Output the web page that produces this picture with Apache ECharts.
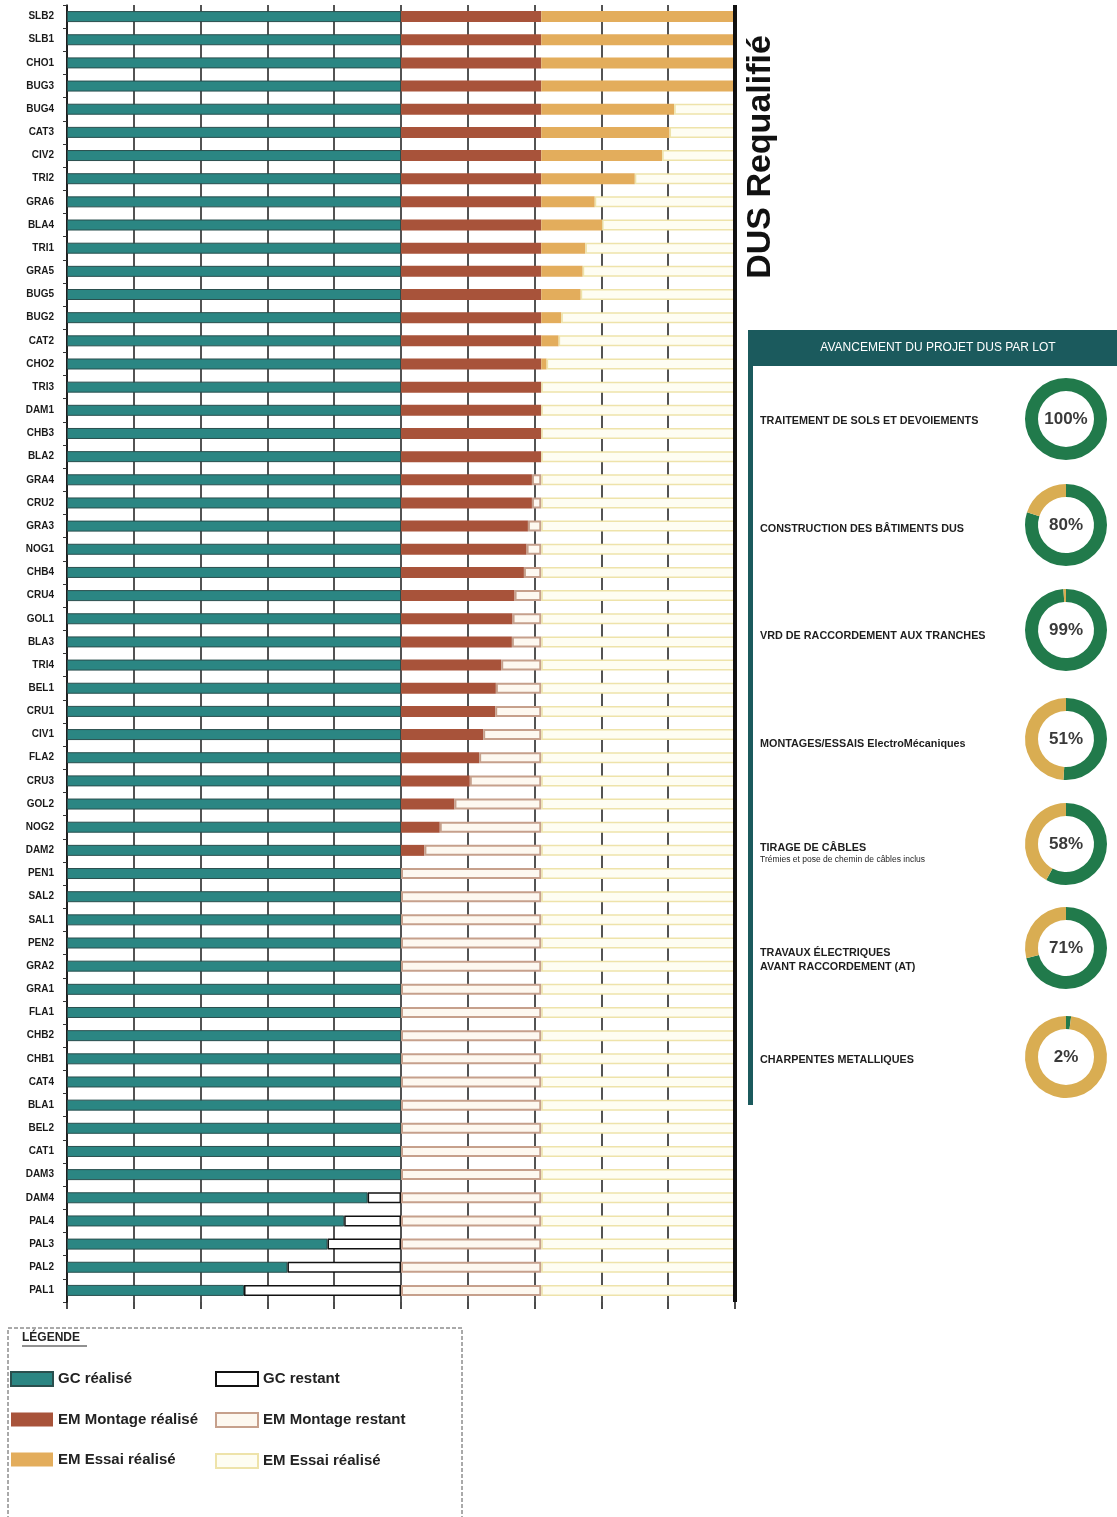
<!DOCTYPE html>
<html>
<head>
<meta charset="utf-8">
<script src="https://cdn.jsdelivr.net/npm/echarts@6/dist/echarts.min.js"></script>
<style>
html,body{margin:0;padding:0;background:#fff;}
#chart{width:1117px;height:1517px;}
</style>
</head>
<body>
<div id="chart"></div>
<script>
// sites, top to bottom
const categories = ['SLB2','SLB1','CHO1','BUG3','BUG4','CAT3','CIV2','TRI2','GRA6','BLA4',
  'TRI1','GRA5','BUG5','BUG2','CAT2','CHO2','TRI3','DAM1','CHB3','BLA2',
  'GRA4','CRU2','GRA3','NOG1','CHB4','CRU4','GOL1','BLA3','TRI4','BEL1',
  'CRU1','CIV1','FLA2','CRU3','GOL2','NOG2','DAM2','PEN1','SAL2','SAL1',
  'PEN2','GRA2','GRA1','FLA1','CHB2','CHB1','CAT4','BLA1','BEL2','CAT1',
  'DAM3','DAM4','PAL4','PAL3','PAL2','PAL1'];

const gcDone = [50,50,50,50,50,50,50,50,50,50,
  50,50,50,50,50,50,50,50,50,50,
  50,50,50,50,50,50,50,50,50,50,
  50,50,50,50,50,50,50,50,50,50,
  50,50,50,50,50,50,50,50,50,50,
  50,45,41.5,39,33,26.5];
const gcLeft = [0,0,0,0,0,0,0,0,0,0,
  0,0,0,0,0,0,0,0,0,0,
  0,0,0,0,0,0,0,0,0,0,
  0,0,0,0,0,0,0,0,0,0,
  0,0,0,0,0,0,0,0,0,0,
  0,5,8.5,11,17,23.5];
const mtDone = [21,21,21,21,21,21,21,21,21,21,
  21,21,21,21,21,21,21,21,21,21,
  19.6,19.6,19.0,18.8,18.4,17.0,16.7,16.6,15.0,14.2,
  14.1,12.3,11.7,10.3,8.0,5.8,3.5,0,0,0,
  0,0,0,0,0,0,0,0,0,0,
  0,0,0,0,0,0];
const mtLeft = [0,0,0,0,0,0,0,0,0,0,
  0,0,0,0,0,0,0,0,0,0,
  1.4,1.4,2.0,2.2,2.6,4.0,4.3,4.4,6.0,6.8,
  6.9,8.7,9.3,10.7,13.0,15.2,17.5,21,21,21,
  21,21,21,21,21,21,21,21,21,21,
  21,21,21,21,21,21];
const esDone = [29,29,29,29,19.9,19.2,18.1,14.0,8.0,9.1,
  6.6,6.2,5.9,3.0,2.6,0.8,0,0,0,0,
  0,0,0,0,0,0,0,0,0,0,
  0,0,0,0,0,0,0,0,0,0,
  0,0,0,0,0,0,0,0,0,0,
  0,0,0,0,0,0];
const esLeft = [0,0,0,0,9.1,9.8,10.9,15.0,21.0,19.9,
  22.4,22.8,23.1,26.0,26.4,28.2,29,29,29,29,
  29,29,29,29,29,29,29,29,29,29,
  29,29,29,29,29,29,29,29,29,29,
  29,29,29,29,29,29,29,29,29,29,
  29,29,29,29,29,29];

// lots on the right panel
const lotLines = [
  ['TRAITEMENT DE SOLS ET DEVOIEMENTS'],
  ['CONSTRUCTION DES BÂTIMENTS DUS'],
  ['VRD DE RACCORDEMENT AUX TRANCHES'],
  ['MONTAGES/ESSAIS ElectroMécaniques'],
  ['TIRAGE DE CÂBLES', 'Trémies et pose de chemin de câbles inclus'],
  ['TRAVAUX ÉLECTRIQUES', 'AVANT RACCORDEMENT (AT)'],
  ['CHARPENTES METALLIQUES']
];
const lotPct = [100, 80, 99, 51, 58, 71, 2];
const lotRest = [0, 20, 1, 49, 42, 29, 98];

const narrow = "'Liberation Sans Narrow','Liberation Sans',sans-serif";
const donutY = [419, 525, 630, 739, 844, 948, 1057];

let chart = echarts.init(document.getElementById('chart'));

function bar(name, data, color, border, bw){
  return {
    name: name, type: 'bar', stack: 'total', barWidth: 11, z: 2,
    data: data.map(v => v === 0 ? '-' : v),
    itemStyle: {color: color, borderColor: border, borderWidth: bw},
    emphasis: {disabled: true}, silent: true
  };
}

let series = [
  bar('GC réalisé', gcDone, '#2b8683', '#2a4f4e', 1),
  bar('GC restant', gcLeft, '#ffffff', '#111111', 1.5),
  bar('EM Montage réalisé', mtDone, '#a8533a', '#a8533a', 0),
  bar('EM Montage restant', mtLeft, '#fdf8f0', '#c6a08c', 2),
  bar('EM Essai réalisé', esDone, '#e3ad5c', '#e3ad5c', 0),
  bar('EM Essai restant', esLeft, '#fefdf2', '#eee3aa', 1.5),
  {
    type: 'line', data: [], z: 1, silent: true,
    markLine: {silent: true, symbol: 'none', label: {show: false},
      lineStyle: {color: '#111', width: 4, type: 'solid'},
      data: [{xAxis: 100}]}
  }
];

lotPct.forEach((p, i) => {
  series.push({
    type: 'pie', center: [1066, donutY[i]], radius: [28, 41],
    startAngle: 90, clockwise: true, silent: true, avoidLabelOverlap: false,
    labelLine: {show: false},
    label: {show: false},
    data: [
      {value: p, itemStyle: {color: '#217a4b'},
       label: {show: true, position: 'center', formatter: '{c}%',
         fontSize: 17, fontWeight: 'bold', color: '#3a3a3a', fontFamily: 'Liberation Sans, Arial'}},
      {value: lotRest[i], itemStyle: {color: '#d9ad52'}}
    ]
  });
});

let graphic = [
  {type: 'text', x: 761, y: 157, rotation: Math.PI / 2,
   style: {text: 'DUS Requalifié', font: "bold 34px 'Liberation Sans', Arial", fill: '#111',
     textAlign: 'center', textVerticalAlign: 'middle'}},
  {type: 'rect', shape: {x: 748, y: 330, width: 369, height: 36}, style: {fill: '#1b5a5d'}},
  {type: 'rect', shape: {x: 748, y: 330, width: 5, height: 775}, style: {fill: '#1b5a5d'}},
  {type: 'text', x: 938, y: 348,
   style: {text: 'AVANCEMENT DU PROJET DUS PAR LOT', font: "12px 'Liberation Sans', Arial", fill: '#fff',
     textAlign: 'center', textVerticalAlign: 'middle'}},
  {type: 'rect', shape: {x: 8, y: 1328, width: 454, height: 200},
   style: {fill: 'none', stroke: '#555', lineWidth: 1, lineDash: [4, 2]}},
  {type: 'text', x: 22, y: 1338,
   style: {text: 'LÉGENDE', font: "bold 12px " + narrow, fill: '#222', textVerticalAlign: 'middle'}},
  {type: 'line', shape: {x1: 22, y1: 1346, x2: 87, y2: 1346}, style: {stroke: '#222', lineWidth: 1}}
];

const lotLabelY = [421, 529, 636, 744, 848, 953, 1060];
lotLines.forEach((lines, i) => {
  graphic.push({type: 'text', x: 760, y: lotLabelY[i],
    style: {text: lines[0], font: "bold 10.8px " + narrow, fill: '#1e1e1e', textVerticalAlign: 'middle'}});
  if (lines[1]) {
    let bold = i === 5;
    graphic.push({type: 'text', x: 760, y: lotLabelY[i] + (bold ? 14 : 12),
      style: {text: lines[1], font: (bold ? 'bold 10.8px ' : '8.5px ') + narrow, fill: '#1e1e1e', textVerticalAlign: 'middle'}});
  }
});

const legendText = {fontSize: 15, fontWeight: 'bold', color: '#222', fontFamily: narrow, lineHeight: 14};

chart.setOption({
  animation: false,
  backgroundColor: '#fff',
  grid: {left: 67, top: 5, width: 668, height: 1297, containLabel: false},
  legend: [
    {left: 10, top: 1371, padding: 0, orient: 'vertical', icon: 'rect', itemWidth: 42, itemHeight: 14, itemGap: 25,
     selectedMode: false, textStyle: legendText,
     data: ['GC réalisé', 'EM Montage réalisé', 'EM Essai réalisé']},
    {left: 215, top: 1371, padding: 0, orient: 'vertical', icon: 'rect', itemWidth: 42, itemHeight: 14, itemGap: 25,
     selectedMode: false, textStyle: legendText,
     formatter: function(name){ return name === 'EM Essai restant' ? 'EM Essai réalisé' : name; },
     data: ['GC restant', 'EM Montage restant', 'EM Essai restant']}
  ],
  xAxis: {
    type: 'value', min: 0, max: 100, interval: 10,
    axisLabel: {show: false},
    axisLine: {show: false},
    axisTick: {show: true, length: 7, lineStyle: {color: '#111', width: 1.5}},
    splitLine: {show: true, lineStyle: {color: '#1a1a1a', width: 1.5}}
  },
  yAxis: {
    type: 'category', inverse: true, data: categories,
    axisLine: {show: true, lineStyle: {color: '#111', width: 1.5}},
    axisTick: {show: true, length: 4, lineStyle: {color: '#333'}},
    axisLabel: {fontSize: 10, fontWeight: 'bold', color: '#1a1a1a', fontFamily: narrow, margin: 13}
  },
  series: series,
  graphic: graphic
});
</script>
</body>
</html>
